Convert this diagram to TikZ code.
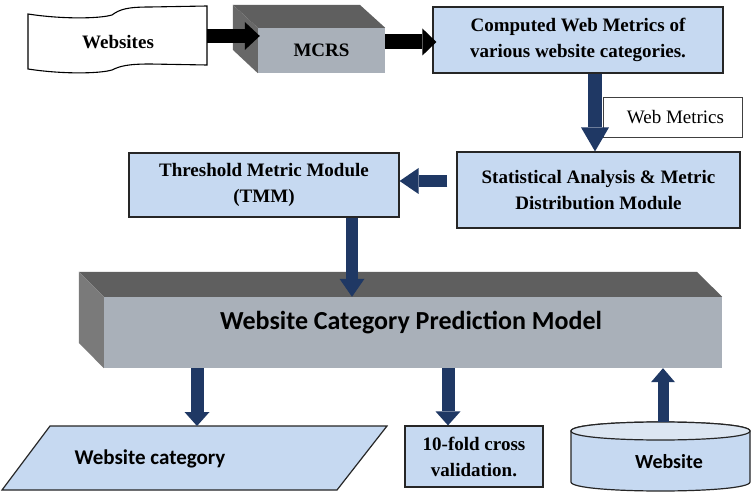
\documentclass[tikz,border=0pt]{standalone}
\usepackage{fontspec}
\setmainfont{Liberation Serif}
\newfontfamily\calfont{Carlito}
\usetikzlibrary{arrows.meta}
\definecolor{boxblue}{HTML}{C6D9F1}
\definecolor{lightblue}{HTML}{DCE6F2}
\definecolor{navy}{HTML}{1F3864}
\definecolor{frontgray}{HTML}{A9B0B9}
\definecolor{topgray}{HTML}{5F5F5F}
\definecolor{sidegray}{HTML}{7A7A7A}
\begin{document}
\begin{tikzpicture}[x=1pt,y=-1pt,
  serifbold/.style={font=\bfseries\fontsize{19}{26}\selectfont,align=center},
  bluebox/.style={draw=black!85,line width=1.2pt,fill=boxblue,inner sep=0pt,serifbold},
  bluebord/.style={draw=black!85,line width=1.2pt,fill=boxblue},
  blackarr/.style args={#1/#2/#3}{draw=black,line width=#1,-{Triangle[width=#2,length=#3,line width=0pt]}},
  navyarr/.style args={#1/#2/#3}{draw=navy,line width=#1,-{Triangle[width=#2,length=#3,line width=0pt]}},
  calbold/.style={font=\calfont\bfseries\fontsize{#1}{#1}\selectfont}
]
\useasboundingbox[fill=white] (0,0) rectangle (753,492);

% Websites tape
\draw[line width=1.1pt,fill=white] (28,14) .. controls (60,19) and (98,19) .. (112,15)
  .. controls (120,9) and (128,7) .. (150,7) -- (207,6) -- (207,65) -- (150,64)
  .. controls (128,64) and (120,66) .. (112,70) .. controls (98,74) and (60,74) .. (28,69) -- cycle;
\node[serifbold] (websites) at (118,42) {Websites};
\coordinate (tapeE) at (207,36);

% MCRS 3D box
\node[fill=frontgray,minimum width=127pt,minimum height=45pt,inner sep=0pt,serifbold] (mcrs) at (321.5,50.5) {MCRS};
\fill[topgray] (mcrs.north west) -- ++(-25,-23) -- ++(127,0) -- (mcrs.north east) -- cycle;
\fill[sidegray!85!black] (mcrs.north west) -- ++(-25,-23) -- ++(0,45) -- (mcrs.south west) -- cycle;

% Computed web metrics
\node[bluebox,minimum width=290pt,minimum height=66pt] (comp) at (578,40) {Computed Web Metrics of\\various website categories.};

% Web Metrics label box
\node[draw=black!75,line width=0.8pt,fill=white,minimum width=139pt,minimum height=40pt,inner sep=0pt,
  font=\fontsize{19}{22}\selectfont] (webm) at (672.5,117) {\hspace*{6pt}Web Metrics};

% Statistical analysis
\node[bluebox,minimum width=283pt,minimum height=76pt] (stat) at (598.5,190) {Statistical Analysis \& Metric\\Distribution Module};

% Threshold metric module
\node[bluebox,minimum width=270pt,minimum height=64pt] (tmm) at (264,185) {Threshold Metric Module\\(TMM)};

% Prediction model 3D box
\node[fill=frontgray,minimum width=618pt,minimum height=71pt,inner sep=0pt] (model) at (413,332.5) {};
\fill[topgray] (model.north west) -- ++(-25,-25) -- ++(618,0) -- (model.north east) -- cycle;
\fill[sidegray] (model.north west) -- ++(-25,-25) -- ++(0,71) -- (model.south west) -- cycle;
\node[calbold=26] (modeltext) at (411,323) {Website Category Prediction Model};

% Website category parallelogram
\draw[bluebord] (50,426) -- (387,426) -- (337,490) -- (2,490) -- cycle;
\node[calbold=21] (cat) at (150,459) {Website category};
\coordinate (catTop) at (197,426);

% 10-fold cross validation
\node[bluebox,minimum width=138pt,minimum height=61pt] (fold) at (474,456.5) {10-fold cross\\validation.};

% Website cylinder
\filldraw[bluebord] (571,431) -- (571,482) .. controls (571,494) and (750,494) .. (750,482) -- (750,431)
  .. controls (750,419) and (571,419) .. (571,431) -- cycle;
\fill[lightblue] (571,431) .. controls (571,419) and (750,419) .. (750,431) .. controls (750,443) and (571,443) .. (571,431) -- cycle;
\draw[draw=black!85,line width=1.2pt] (571,431) .. controls (571,419) and (750,419) .. (750,431) .. controls (750,443) and (571,443) .. (571,431) -- cycle;
\node[calbold=20] (site) at (669,462) {Website};
\coordinate (cylTop) at (663,422);

% Connectors
\draw[blackarr=14pt/28pt/15pt] (tapeE) -- ([xshift=2pt]tapeE -| mcrs.west);
\draw[blackarr=15pt/27pt/14pt] (mcrs.east |- 0,42) -- ([xshift=4pt]comp.west |- 0,42);
\draw[navyarr=14pt/28pt/24pt] (comp.south -| 595,0) -- (stat.north -| 595,0);
\draw[navyarr=12pt/26pt/19pt] ([xshift=-9pt]stat.west |- 0,181) -- (tmm.east |- 0,181);
\draw[navyarr=12pt/25pt/18pt] (tmm.south -| 352,0) -- (model.north -| 352,0);
\draw[navyarr=13pt/25pt/14pt] (model.south -| catTop) -- (catTop);
\draw[navyarr=13pt/25pt/14pt] (model.south -| 448,0) -- (fold.north -| 448,0);
\draw[navyarr=11pt/24pt/14pt] (cylTop) -- (model.south -| cylTop);
\end{tikzpicture}
\end{document}
